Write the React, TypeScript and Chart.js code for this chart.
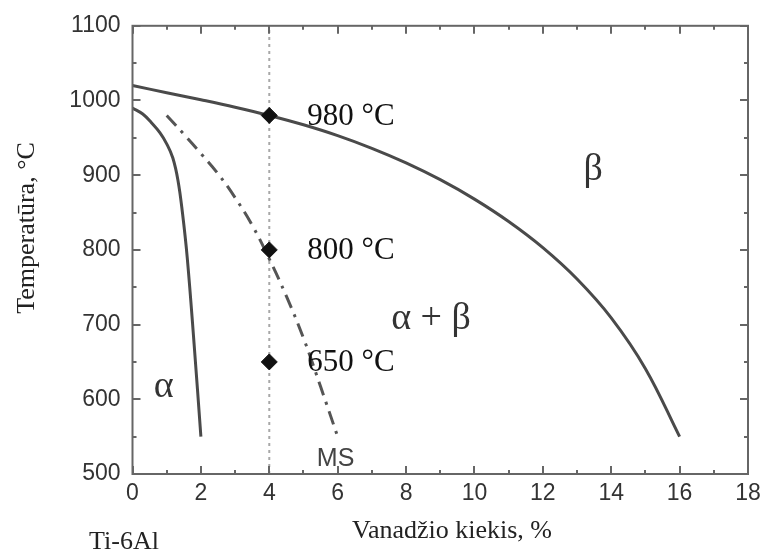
import React, { useEffect, useRef } from "react";
import { Chart, registerables } from "chart.js";

Chart.register(...registerables);

// ---- Data ----
const X_MIN = 0;
const X_MAX = 18;
const X_STEP = 2;
const Y_MIN = 500;
const Y_MAX = 1100;
const Y_STEP = 100;

// beta transus (solid)
const betaX = [0, 1, 2, 3, 4, 5, 6, 7, 8, 9, 10, 11, 12, 13, 14, 15, 16];
const betaT = [1020, 1010.5, 1001, 991, 980, 967.5, 953, 936, 916.5, 894, 868, 838, 803, 761, 709, 641, 550];

// alpha boundary (solid)
const alphaX = [0, 0.3, 0.56, 0.8, 1.0, 1.18, 1.33, 1.46, 1.6, 1.8, 2.0];
const alphaT = [990, 982, 970, 957, 942, 923, 893, 850, 790, 675, 550];

// martensite start (dash-dot)
const msX = [1.0, 1.5, 2.0, 2.5, 3.0, 3.5, 4.0, 4.5, 5.0, 5.5, 6.0];
const msT = [980, 955, 929, 902, 870, 833, 788, 738, 682, 617, 550];

// vertical dotted line at 4 % V
const vlineX = [4, 4];
const vlineT = [500, 1100];

// heat-treatment points
const pointX = [4, 4, 4];
const pointT = [980, 800, 650];
const pointLabels = ["980 °C", "800 °C", "650 °C"];

// phase-field labels
const phaseLabels = ["α", "α + β", "β"];
const phaseX = [0.91, 8.73, 13.47];
const phaseT = [617, 707, 907];

const msLabel = "MS";
const msLabelX = 5.94;
const msLabelT = 520;

const xTitle = "Vanadžio kiekis, %";
const yTitle = "Temperatūra, °C";
const baseLabel = "Ti-6Al";

const toPts = (xs: number[], ys: number[]) => xs.map((x, i) => ({ x, y: ys[i] }));

const SERIF = "'Liberation Serif', 'Times New Roman', serif";
const SANS = "'Liberation Sans', Arial, sans-serif";

const overlayPlugin = {
  id: "overlay",
  afterDraw(chart: any) {
    const { ctx, chartArea: a } = chart;
    const xs = chart.scales.x;
    const ys = chart.scales.y;
    ctx.save();

    // frame
    ctx.strokeStyle = "#666";
    ctx.lineWidth = 2;
    ctx.strokeRect(a.left, a.top, a.right - a.left, a.bottom - a.top);

    // inside ticks on all four sides
    ctx.lineWidth = 2;
    ctx.beginPath();
    for (let v = X_MIN; v <= X_MAX; v += 1) {
      const px = Math.round(xs.getPixelForValue(v));
      const len = v % X_STEP === 0 ? 8 : 4;
      ctx.moveTo(px, a.bottom);
      ctx.lineTo(px, a.bottom - len);
      ctx.moveTo(px, a.top);
      ctx.lineTo(px, a.top + len);
    }
    for (let v = Y_MIN; v <= Y_MAX; v += Y_STEP / 2) {
      const py = Math.round(ys.getPixelForValue(v));
      const len = v % Y_STEP === 0 ? 8 : 4;
      ctx.moveTo(a.left, py);
      ctx.lineTo(a.left + len, py);
      ctx.moveTo(a.right, py);
      ctx.lineTo(a.right - len, py);
    }
    ctx.stroke();

    // point labels
    ctx.fillStyle = "#111";
    ctx.font = `31px ${SERIF}`;
    ctx.textAlign = "left";
    ctx.textBaseline = "middle";
    pointLabels.forEach((t, i) => {
      ctx.fillText(t, xs.getPixelForValue(pointX[i]) + 38, ys.getPixelForValue(pointT[i]) + 1);
    });

    // phase labels
    ctx.fillStyle = "#333";
    ctx.font = `38px ${SERIF}`;
    ctx.textAlign = "center";
    ctx.textBaseline = "middle";
    phaseLabels.forEach((t, i) => {
      ctx.fillText(t, xs.getPixelForValue(phaseX[i]), ys.getPixelForValue(phaseT[i]));
    });

    // MS label
    ctx.fillStyle = "#444";
    ctx.font = `25px ${SANS}`;
    ctx.fillText(msLabel, xs.getPixelForValue(msLabelX), ys.getPixelForValue(msLabelT));

    // axis titles
    ctx.fillStyle = "#222";
    ctx.font = `26px ${SERIF}`;
    ctx.textBaseline = "alphabetic";
    ctx.textAlign = "center";
    ctx.fillText(xTitle, 452, 538);
    ctx.fillText(baseLabel, 124, 549);

    ctx.save();
    ctx.translate(34, 228);
    ctx.rotate(-Math.PI / 2);
    ctx.textAlign = "center";
    ctx.textBaseline = "alphabetic";
    ctx.fillText(yTitle, 0, 0);
    ctx.restore();

    ctx.restore();
  },
};

export default function App() {
  const ref = useRef<HTMLCanvasElement | null>(null);

  useEffect(() => {
    if (!ref.current) return;
    const lineColor = "#4a4a4a";
    const chart = new Chart(ref.current, {
      type: "scatter",
      data: {
        datasets: [
          {
            label: "points",
            data: toPts(pointX, pointT),
            pointStyle: "rectRot",
            pointRadius: 8,
            pointBackgroundColor: "#111",
            pointBorderColor: "#111",
            showLine: false,
          },
          {
            label: "beta",
            data: toPts(betaX, betaT),
            showLine: true,
            borderColor: lineColor,
            borderWidth: 3,
            pointRadius: 0,
            tension: 0.4,
          },
          {
            label: "alpha",
            data: toPts(alphaX, alphaT),
            showLine: true,
            borderColor: lineColor,
            borderWidth: 3,
            pointRadius: 0,
            tension: 0.4,
          },
          {
            label: "MS",
            data: toPts(msX, msT),
            showLine: true,
            borderColor: "#555",
            borderWidth: 3,
            borderDash: [14, 7, 3, 7],
            pointRadius: 0,
            tension: 0.4,
          },
          {
            label: "vline",
            data: toPts(vlineX, vlineT),
            showLine: true,
            borderColor: "#a8a8a8",
            borderWidth: 2,
            borderDash: [3, 4],
            pointRadius: 0,
            tension: 0,
          },
        ],
      },
      options: {
        animation: false,
        responsive: false,
        events: [],
        layout: { padding: { top: 22, right: 19, bottom: 33, left: 22 } },
        plugins: {
          legend: { display: false },
          tooltip: { enabled: false },
        },
        scales: {
          x: {
            type: "linear",
            min: X_MIN,
            max: X_MAX,
            grid: { display: false, drawTicks: false },
            border: { display: false },
            ticks: {
              stepSize: X_STEP,
              padding: 6,
              color: "#333",
              font: { family: SANS, size: 23 },
              maxRotation: 0,
              callback: (v: any) => String(v),
            },
            afterFit: (s: any) => {
              s.height = 50;
            },
          },
          y: {
            type: "linear",
            min: Y_MIN,
            max: Y_MAX,
            grid: { display: false, drawTicks: false },
            border: { display: false },
            ticks: {
              stepSize: Y_STEP,
              padding: 12,
              color: "#333",
              font: { family: SANS, size: 23 },
              callback: (v: any) => String(v),
            },
            afterFit: (s: any) => {
              s.width = 110.5;
            },
          },
        },
      },
      plugins: [overlayPlugin],
    });
    return () => chart.destroy();
  }, []);

  return (
    <div style={{ position: "absolute", left: 0, top: 0, width: 767, height: 557, background: "#fff" }}>
      <canvas ref={ref} width={767} height={557} style={{ width: 767, height: 557, display: "block" }} />
    </div>
  );
}
